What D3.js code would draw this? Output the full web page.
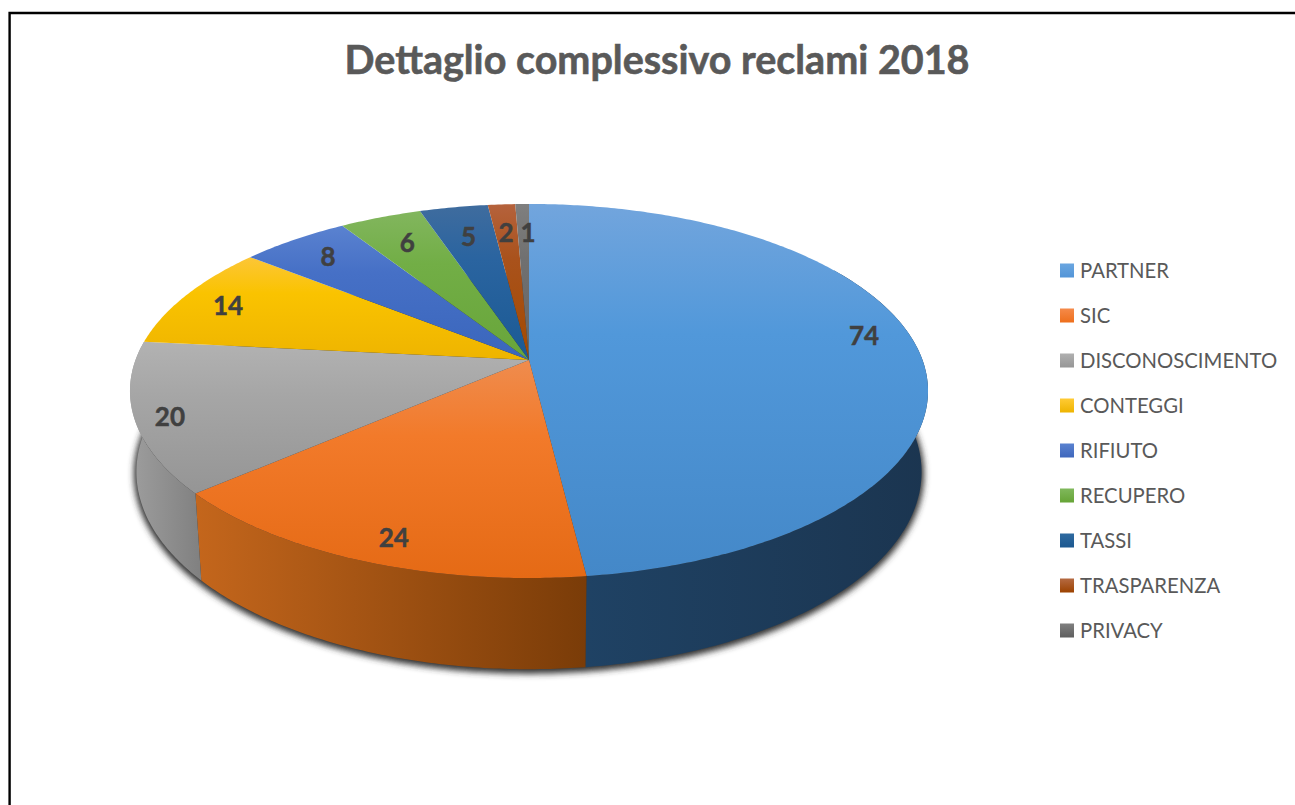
<!DOCTYPE html>
<html><head><meta charset="utf-8">
<script src="https://cdn.jsdelivr.net/npm/d3@7"></script>
<style>html,body{margin:0;padding:0;background:#fff}svg{display:block}</style>
</head><body><svg id="c" width="1295" height="805"></svg>
<script>
const titleText = "Dettaglio complessivo reclami 2018";
const categories = ["PARTNER","SIC","DISCONOSCIMENTO","CONTEGGI","RIFIUTO","RECUPERO","TASSI","TRASPARENZA","PRIVACY"];
const values = [74,24,20,14,8,6,5,2,1];
const faceTop = ["#72a5dd","#ef8c4e","#b2b2b2","#fcc637","#5a82d0","#82b65e","#3f6c9e","#b5623c","#7f7f7f"];
const faceMid = ["#5198da","#f27a2a","#a6a6a6","#fac300","#4670c6","#72ae46","#2a64a0","#a9521c","#707070"];
const faceBottom = ["#4488c8","#e56a15","#959595","#eeb400","#3a66bc","#68a53a","#1b5a94","#a34a00","#666666"];
const legendTop = ["#6aa6e0","#f58a4a","#b0b0b0","#ffcb35","#5a82d0","#80b85c","#2f6aa0","#b56a42","#808080"];
const legendBottom = ["#5395d8","#ee6f1c","#969696","#eeb400","#3f67bc","#66a436","#1c5890","#9c4200","#5e5e5e"];
const wallLeft = ["#1f4264","#c4661c","#9e9e9e"];
const wallRight = ["#1b3550","#7a3c08","#808080"];
const labelNudge = [[4,-15],[3,11],[-26,8],[-7,1],[2,1],[7,6],[5,9],[1,8],[5,8.5]];

const svg = d3.select("#c");
const cx=529, cy=360, R=393.5, S=181.9, k=0.1657, m=0.016, T=81;
function project(a, r, z){
  const X=r*Math.sin(a), Y=-r*Math.cos(a), w=1-k*Y+m*z;
  return [cx+R*X/w, cy+(S*Y+T*z)/w];
}
const arcs = d3.pie().sort(null).value(d=>d)(values);
const line = d3.line();
const defs = svg.append("defs");

// frame
svg.append("rect").attr("width",1295).attr("height",805).attr("fill","#fff");
svg.append("path").attr("d","M9.6 805V13H1295").attr("fill","none").attr("stroke","#000").attr("stroke-width",2.4);

function samples(a0,a1,z){
  const n=Math.max(2,Math.ceil((a1-a0)*90));
  return d3.range(n+1).map(i=>project(a0+(a1-a0)*i/n,1,z));
}
// gradients
categories.forEach((c,i)=>{
  const b=defs.append("linearGradient").attr("id","b"+i).attr("x1",0).attr("x2",0).attr("y1",0).attr("y2",1);
  b.append("stop").attr("offset",0).attr("stop-color",faceTop[i]);
  b.append("stop").attr("offset",0.35).attr("stop-color",faceMid[i]);
  b.append("stop").attr("offset",1).attr("stop-color",faceBottom[i]);
  const l=defs.append("linearGradient").attr("id","l"+i).attr("x1",0).attr("x2",0).attr("y1",0).attr("y2",1);
  l.append("stop").attr("offset",0).attr("stop-color",legendTop[i]);
  l.append("stop").attr("offset",1).attr("stop-color",legendBottom[i]);
});
wallLeft.forEach((c,i)=>{
  const g=defs.append("linearGradient").attr("id","w"+i);
  g.append("stop").attr("offset",0).attr("stop-color",wallLeft[i]);
  g.append("stop").attr("offset",1).attr("stop-color",wallRight[i]);
});
const blur=defs.append("filter").attr("id","sh").attr("x","-5%").attr("y","-5%").attr("width","110%").attr("height","115%");
blur.append("feGaussianBlur").attr("stdDeviation",3.4);

// shadow below the lower rim
const tau=2*Math.PI;
svg.append("path").attr("d",line(samples(0,tau,1))+"Z").attr("fill","#333")
  .attr("stroke","#333").attr("stroke-width",5)
  .attr("filter","url(#sh)").attr("transform","translate(0,2)");

// walls
const visA0=tau*0.16, visA1=tau*0.84;
arcs.forEach((d,i)=>{
  const a0=Math.max(d.startAngle,visA0), a1=Math.min(d.endAngle,visA1);
  if(a1<=a0) return;
  const top=samples(a0,a1,0), bot=samples(a0,a1,1).reverse();
  svg.append("path").attr("d",line(top.concat(bot))+"Z").attr("fill","url(#w"+i+")");
});

// top faces
arcs.forEach((d,i)=>{
  const pts=[project(0,0,0)].concat(samples(d.startAngle,d.endAngle,0));
  svg.append("path").attr("d",line(pts)+"Z").attr("fill","url(#b"+i+")");
});

// value labels
arcs.forEach((d,i)=>{
  const p=project((d.startAngle+d.endAngle)/2,0.85,0);
  svg.append("text").attr("x",p[0]+labelNudge[i][0]).attr("y",p[1]+labelNudge[i][1])
    .attr("dy","0.36em").attr("text-anchor","middle")
    .attr("font-family","Lato").attr("font-weight",700).attr("font-size",26).attr("fill","#404040")
    .attr("stroke","#404040").attr("stroke-width",0.5)
    .text(values[i]);
});

// title
svg.append("text").attr("x",657).attr("y",74).attr("text-anchor","middle")
  .attr("font-family","Lato").attr("font-weight",700).attr("font-size",39.5).attr("fill","#595959")
  .attr("stroke","#595959").attr("stroke-width",0.6).text(titleText);

// legend
const ly=d3.scalePoint().domain(categories).range([270.5,630.5]);
const lg=svg.append("g").selectAll("g").data(categories).join("g").attr("transform",d=>`translate(0,${ly(d)})`);
lg.append("rect").attr("x",1060).attr("y",-7).attr("width",14).attr("height",14).attr("fill",(d,i)=>"url(#l"+i+")");
lg.append("text").attr("x",1080).attr("y",0).attr("dy","0.36em")
  .attr("font-family","Lato").attr("font-size",20.3).attr("fill","#595959").text(d=>d);
</script></body></html>
